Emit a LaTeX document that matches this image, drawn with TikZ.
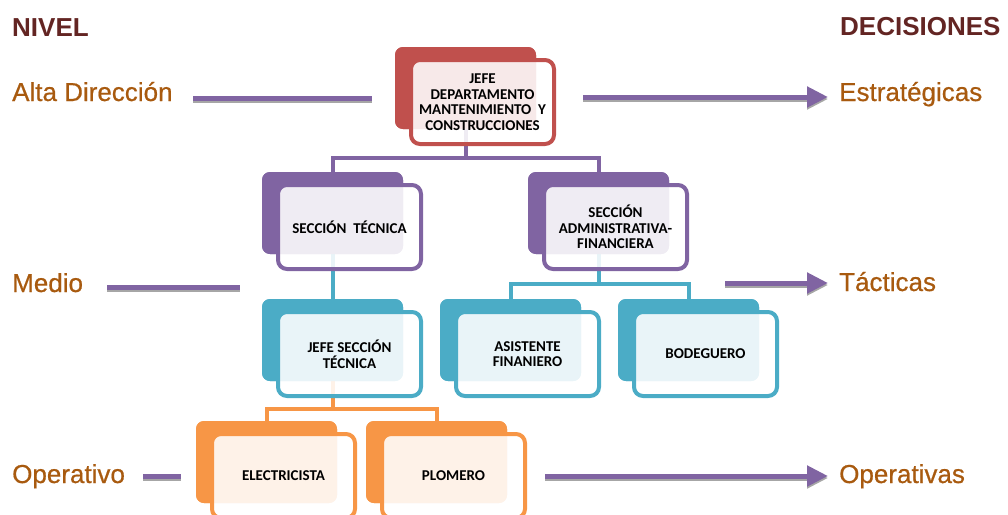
\documentclass[tikz,border=0pt]{standalone}
\usepackage{fontspec}
\setmainfont{Liberation Sans}
\newfontfamily\boxfont{Carlito}
\newfontfamily\lblfont{Liberation Sans}[FakeBold=0.6]
\usetikzlibrary{arrows.meta}
\definecolor{cRed}{HTML}{C0504D}
\definecolor{cPurple}{HTML}{8064A2}
\definecolor{cBlue}{HTML}{4BACC6}
\definecolor{cOrange}{HTML}{F79646}
\definecolor{cLabel}{RGB}{168,90,15}
\definecolor{cHead}{HTML}{632523}
\begin{document}
\begin{tikzpicture}[x=1pt,y=-1pt,
  backbox/.style={rectangle, rounded corners=8pt, fill=#1, minimum width=141pt, minimum height=82pt, inner sep=0pt},
  frontbox/.style={rectangle, rounded corners=9pt, draw=#1, line width=4pt, fill=white, fill opacity=0.88, text opacity=1, minimum width=143pt, minimum height=84pt, inner sep=0pt, align=center, text=black, font=\boxfont\bfseries\fontsize{15}{15.6}\selectfont},
  conn/.style={draw=#1, line width=4pt},
  sideline/.style={draw=cPurple, line width=5pt, preaction={draw=black!35, line width=5pt, transform canvas={yshift=-2pt}}},
  sidearrow/.style={draw=cPurple, line width=5pt, -{Triangle[length=21pt,width=20pt]}, preaction={draw=black!35, line width=5pt, -{Triangle[length=21pt,width=20pt]}, transform canvas={yshift=-2pt}}},
  lvl/.style={anchor=base west, text=cLabel, font=\lblfont\fontsize{26}{30}\selectfont, inner sep=0pt},
  head/.style={anchor=base west, text=cHead, font=\bfseries\fontsize{26}{30}\selectfont, inner sep=0pt},
]
\useasboundingbox (0,0) rectangle (1008,514);
\clip (0,0) rectangle (1008,514);

% back shapes (positions)
\node[backbox=cRed]    (topB) at (465.5,88)  {};
\node[backbox=cPurple] (stB)  at (332.5,213) {};
\node[backbox=cPurple] (saB)  at (598.5,213) {};
\node[backbox=cBlue]   (jsB)  at (332.5,340) {};
\node[backbox=cBlue]   (afB)  at (510.5,340) {};
\node[backbox=cBlue]   (boB)  at (688.5,340) {};
\node[backbox=cOrange] (elB)  at (266.5,462) {};
\node[backbox=cOrange] (plB)  at (436.5,462) {};

\coordinate (j1) at (465.5,158);
\coordinate (j2) at (598.5,284);
\coordinate (j3) at (332.5,409);

% labels
\node[head] (nivel) at (12,36) {NIVEL};
\node[head] (dec) at (840,35) {DECISIONES};
\node[lvl] (alta) at (12,101) {Alta Dirección};
\node[lvl] (medio) at (12,292) {Medio};
\node[lvl] (oper) at (12,483) {Operativo};
\node[lvl] (estr) at (839,101) {Estratégicas};
\node[lvl] (tact) at (839,291) {Tácticas};
\node[lvl] (opes) at (839,483) {Operativas};

% side lines
\coordinate (a1) at (193,98);  \coordinate (a2) at (372,98);
\coordinate (a3) at (583,97);  \coordinate (a4) at (828,97);
\coordinate (m1) at (107,287); \coordinate (m2) at (240,287);
\coordinate (m3) at (725,283); \coordinate (m4) at (828,283);
\coordinate (o1) at (143,476); \coordinate (o2) at (181,476);
\coordinate (o3) at (545,476); \coordinate (o4) at (828,476);
\draw[sideline] (a1) -- (a2);
\draw[sidearrow] (a3) -- (a4);
\draw[sideline] (m1) -- (m2);
\draw[sidearrow] (m3) -- (m4);
\draw[sideline] (o1) -- (o2);
\draw[sidearrow] (o3) -- (o4);

% connectors
\draw[conn=cPurple] (topB.center) -- (j1) -| (stB.center);
\draw[conn=cPurple] (j1) -| (saB.center);
\draw[conn=cBlue] (stB.center) -- (jsB.center);
\draw[conn=cBlue] (saB.center) -- (j2) -| (afB.center);
\draw[conn=cBlue] (j2) -| (boB.center);
\draw[conn=cOrange] (jsB.center) -- (j3) -| (elB.center);
\draw[conn=cOrange] (j3) -| (plB.center);

% back shapes again on top of connectors
\node[backbox=cRed]    at (topB) {};
\node[backbox=cPurple] at (stB) {};
\node[backbox=cPurple] at (saB) {};
\node[backbox=cBlue]   at (jsB) {};
\node[backbox=cBlue]   at (afB) {};
\node[backbox=cBlue]   at (boB) {};
\node[backbox=cOrange] at (elB) {};
\node[backbox=cOrange] at (plB) {};

% front boxes
\node[frontbox=cRed]    (top) at (482.5,102) {JEFE\\DEPARTAMENTO\\MANTENIMIENTO~~Y\\CONSTRUCCIONES};
\node[frontbox=cPurple] (st)  at (349.5,227) {SECCIÓN~~TÉCNICA};
\node[frontbox=cPurple] (sa)  at (615.5,227) {SECCIÓN\\ADMINISTRATIVA-\\FINANCIERA};
\node[frontbox=cBlue]   (js)  at (349.5,354) {JEFE SECCIÓN\\TÉCNICA};
\node[frontbox=cBlue]   (af)  at (527.5,354) {ASISTENTE\\FINANIERO};
\node[frontbox=cBlue]   (bo)  at (705.5,354) {BODEGUERO};
\node[frontbox=cOrange] (el)  at (283.5,476) {ELECTRICISTA};
\node[frontbox=cOrange] (pl)  at (453.5,476) {PLOMERO};
\end{tikzpicture}
\end{document}
